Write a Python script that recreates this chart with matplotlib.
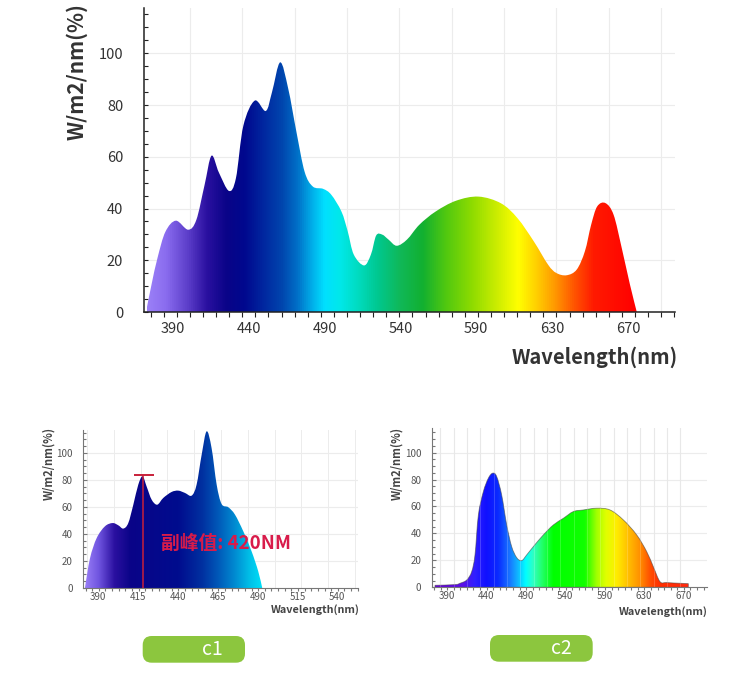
import numpy as np
import matplotlib
matplotlib.use("Agg")
import matplotlib.pyplot as plt
from matplotlib.colors import LinearSegmentedColormap
from matplotlib.patches import FancyBboxPatch, PathPatch
from matplotlib.path import Path

plt.rcParams['font.family'] = ['Noto Sans CJK SC', 'DejaVu Sans']

# ---- main spectrum (top chart) ----
main_wl = [372.2, 376.0, 379.8, 385.0, 391.9, 400.0, 405.4, 410.8,
           415.4, 420.2, 426.9, 431.5, 436.4, 443.9, 451.2, 455.3,
           460.7, 466.0, 471.4, 476.8, 482.2, 489.0, 494.4, 501.1, 505.2,
           509.2, 516.0, 520.5, 524.0, 528.0, 532.1, 537.5, 544.3, 552.4, 563.1,
           576.6, 591.5, 606.3, 617.1, 627.9, 637.3, 642.7, 649.5, 656.2, 661.6, 665.7,
           669.7, 675.1, 680.5, 685.9, 691.3, 695.8]
main_val = [0, 11, 20.9, 31, 35.3, 31.8, 35.6, 49,
            60.4, 54, 46.8, 51.7, 72, 81.7, 77.7, 85,
            96.5, 86.3, 69.6, 54.2, 48.5, 47.6, 45.3, 38.8, 31.2,
            22.2, 18, 22.2, 29.6, 29.9, 28, 25.6, 28, 33.7, 38.8,
            43, 44.6, 42, 36.3, 27.3, 18.3, 15.1, 14.2, 16.4, 23.5, 33.7,
            40.8, 42.1, 37.6, 24.7, 10.6, 0]
main_stops = [(373, '#9b80f7'), (385, '#8a6cef'), (400, '#5a3cc8'), (412, '#2a10a0'),
              (425, '#0a0488'), (437, '#00088e'), (450, '#0028a0'), (462, '#0046ae'),
              (472, '#0070c8'), (482, '#00b0ea'), (490, '#00e0ff'), (500, '#00e8ea'),
              (512, '#00dcc0'), (525, '#00c890'), (540, '#10b858'), (555, '#12b030'),
              (570, '#50c810'), (588, '#90dc00'), (605, '#d0ee00'), (618, '#ffff00'),
              (630, '#ffd000'), (642, '#ff9a00'), (655, '#ff5500'), (668, '#ff1a00'),
              (696, '#ff0000')]
main_xlabels = ['390', '440', '490', '540', '590', '630', '670']

# ---- c1 spectrum ----
c1_wl = [381.6, 384.8, 389.0, 394.2, 399.0, 402.6, 405.7, 408.8, 412.0, 415.1, 417.8,
         420.3, 423.5, 427.0, 430.8, 436.0, 440.2, 444.4, 448.6, 451.7, 454.9,
         458.0, 461.1, 464.3, 467.4, 471.6, 475.8, 481.0, 486.2, 490.4, 492.9]
c1_val = [0, 22, 37, 45.7, 48.1, 46.4, 44, 48, 61.7, 76.5, 82.7,
          75.3, 65.4, 61.7, 66.7, 71.1, 72.1, 70.4, 68.4, 76.5, 98.8,
          116, 103.7, 76.5, 62.2, 59.8, 54.3, 42, 27.2, 12.3, 0]
c1_stops = [(381, '#9b80f7'), (390, '#7055e0'), (400, '#2a10a0'), (410, '#0a0488'),
            (440, '#000c8e'), (455, '#0030a0'), (465, '#0058b8'), (475, '#0088d0'),
            (485, '#00c0e8'), (493, '#00e0f8')]
c1_xlabels = ['390', '415', '440', '465', '490', '515', '540']
c1_peak_wl = 418.2
c1_peak_val = 83.5

# ---- c2 spectrum ----
c2_wl = [375.2, 400.6, 406.9, 415.4, 421.7, 425.9, 430.2, 436.5, 442.8, 448.3, 453.4,
         459.7, 466.1, 472.4, 478.8, 485.1, 491.4, 499.9, 512.6, 525.3, 537.9, 550.6,
         563.3, 580.2, 597.1, 614.0, 630.9, 643.6, 652.0, 660.5, 668.9, 685.8, 696.4]
c2_val = [1.5, 2, 3, 5.4, 11.6, 24, 53.7, 71, 80.9, 84.7, 82.2,
          68.6, 46.3, 30.2, 22, 19.8, 24, 30.2, 38.9, 46.3, 51.2, 56.2,
          57.4, 58.7, 57.4, 50, 38.9, 26.5, 15.3, 4.2, 3.5, 3, 2.7]
c2_stops = [(375, '#6a00e0'), (410, '#5a10e8'), (425, '#3020ff'), (440, '#1010ff'),
            (455, '#0a2cff'), (470, '#1878ff'), (480, '#10b8ff'), (490, '#00ffff'),
            (500, '#30ffc0'), (512, '#20ff60'), (525, '#00ff00'), (565, '#10ff00'),
            (580, '#a0ff00'), (592, '#e0ff00'), (605, '#ffee00'), (620, '#ffc000'),
            (635, '#ff9000'), (648, '#ff5000'), (660, '#ff3000'), (697, '#ff2a10')]
c2_xlabels = ['390', '440', '490', '540', '590', '630', '670']

yticks = [0, 20, 40, 60, 80, 100]
GRID = '#ececec'


def smooth_path(wl, val):
    # cubic bezier through the read points (library draws the curve)
    p = np.column_stack([wl, val]).astype(float)
    n = len(p)
    verts = [(p[0, 0], 0.0), tuple(p[0])]
    codes = [Path.MOVETO, Path.LINETO]
    for i in range(n - 1):
        a = p[i - 1] if i > 0 else p[i]
        b = p[i + 2] if i + 2 < n else p[i + 1]
        c1 = p[i] + (p[i + 1] - a) / 6.0
        c2 = p[i + 1] - (b - p[i]) / 6.0
        c1[1] = max(c1[1], 0)
        c2[1] = max(c2[1], 0)
        verts += [tuple(c1), tuple(c2), tuple(p[i + 1])]
        codes += [Path.CURVE4] * 3
    verts += [(p[-1, 0], 0.0), (p[0, 0], 0.0)]
    codes += [Path.LINETO, Path.CLOSEPOLY]
    return Path(verts, codes)


def gradient_fill(ax, wl, val, stops, x0, x1, y1, outline=None):
    lo, hi = stops[0][0], stops[-1][0]
    cmap = LinearSegmentedColormap.from_list(
        'spec', [((w - lo) / (hi - lo), c) for w, c in stops])
    path = smooth_path(wl, val)
    patch = PathPatch(path, facecolor='none', edgecolor='none', transform=ax.transData)
    ax.add_patch(patch)
    grad = np.linspace(0, 1, 512).reshape(1, -1)
    im = ax.imshow(grad, cmap=cmap, aspect='auto', extent=[lo, hi, 0, y1],
                   origin='lower', zorder=2, interpolation='bilinear')
    im.set_clip_path(patch)
    if outline:
        ax.add_patch(PathPatch(path, facecolor='none', edgecolor=outline, lw=0.6,
                               alpha=0.6, zorder=3))
    ax.set_xlim(x0, x1)
    ax.set_ylim(0, y1)


def style_axes(ax, x1, y1, label_pos, labels, step, tick0, fs, col, ypad, xpad,
               spine_col, lw):
    for s in ['top', 'right']:
        ax.spines[s].set_visible(False)
    for s in ['left', 'bottom']:
        ax.spines[s].set_color(spine_col)
        ax.spines[s].set_linewidth(lw)
        ax.spines[s].set_zorder(5)
    ax.set_xticks(label_pos)
    ax.set_xticklabels(labels)
    ax.set_xticks(np.arange(tick0, x1, step), minor=True)
    ax.set_yticks(yticks)
    ax.set_yticks(np.arange(0, y1, 5), minor=True)
    ax.tick_params(axis='x', which='major', length=0, pad=xpad, labelsize=fs, labelcolor=col)
    ax.tick_params(axis='x', which='minor', length=3.5, direction='out', width=0.8,
                   color=spine_col)
    ax.tick_params(axis='y', which='major', length=3, direction='in', pad=ypad,
                   labelsize=fs, labelcolor=col, width=0.8, color=spine_col)
    ax.tick_params(axis='y', which='minor', length=3, direction='in', width=0.8,
                   color=spine_col)
    for yv in yticks[1:]:
        ax.axhline(yv, color=GRID, lw=0.8, zorder=0)


fig = plt.figure(figsize=(7.5, 7.0), dpi=100)

# main chart
ax = fig.add_axes([144 / 750, 1 - 312 / 700, 531 / 750, 304 / 700])
gradient_fill(ax, main_wl, main_val, main_stops, 370.9, 721, 117.5)
for g in np.arange(375.3 + 3 * 8.63, 721, 4 * 8.63):
    ax.axvline(g, color=GRID, lw=0.8, zorder=0)
style_axes(ax, 721, 117.5, [390 + 50 * i for i in range(7)], main_xlabels,
           8.63, 375.3, 10.5, '#333333', 15, 7, '#222222', 1.1)
fig.text(77 / 750, 1 - 72 / 700, 'W/m2/nm(%)', rotation=90, ha='center', va='center',
         fontsize=15, fontweight='bold', color='#333333')
fig.text(678 / 750, 1 - 357 / 700, 'Wavelength(nm)', ha='right', va='center',
         fontsize=14.5, fontweight='bold', color='#333333')

# c1 chart
ax1 = fig.add_axes([83.3 / 750, 1 - 588 / 700, 274.7 / 750, 158 / 700])
gradient_fill(ax1, c1_wl, c1_val, c1_stops, 380.6, 553, 117)
for g in np.arange(383, 553, 16.8):
    ax1.axvline(g, color=GRID, lw=0.7, zorder=0)
style_axes(ax1, 553, 117, [390 + 25 * i for i in range(7)], c1_xlabels,
           25 / 6, 382, 7, '#555555', 7.5, 3, '#777777', 0.8)
ax1.tick_params(which='minor', length=2.5)
ax1.vlines(c1_peak_wl, 0, c1_peak_val, color='#c8203a', lw=1.1, zorder=4)
ax1.hlines(c1_peak_val, c1_peak_wl - 5.8, c1_peak_wl + 6.7, color='#c8203a', lw=1.4, zorder=4)
ax1.text(429.3, 33.3, '副峰值: 420NM', color='#d81b4a', fontsize=13.5,
         fontweight='bold', ha='left', va='center', zorder=5)
fig.text(49 / 750, 1 - 463 / 700, 'W/m2/nm(%)', rotation=90, ha='center', va='center',
         fontsize=8, fontweight='bold', color='#444444')
fig.text(360 / 750, 1 - 610 / 700, 'Wavelength(nm)', ha='right', va='center',
         fontsize=7.8, fontweight='bold', color='#444444')

# c2 chart
ax2 = fig.add_axes([431.7 / 750, 1 - 587.3 / 700, 275 / 750, 159 / 700])
gradient_fill(ax2, c2_wl, c2_val, c2_stops, 371, 719.7, 118, outline='#444444')
for g in np.arange(382, 700, 16.9):
    ax2.axvline(g, color='#e4e4e4', lw=0.8, zorder=1)
    ax2.axvline(g, color='white', lw=0.7, alpha=0.18, zorder=3)
style_axes(ax2, 719.7, 118, [390 + 50 * i for i in range(7)], c2_xlabels,
           50 / 6, 374, 7, '#555555', 7.5, 3, '#777777', 0.8)
ax2.tick_params(which='minor', length=2.5)
fig.text(396.7 / 750, 1 - 463 / 700, 'W/m2/nm(%)', rotation=90, ha='center', va='center',
         fontsize=8, fontweight='bold', color='#444444')
fig.text(708 / 750, 1 - 611.7 / 700, 'Wavelength(nm)', ha='right', va='center',
         fontsize=7.8, fontweight='bold', color='#444444')

# buttons (pixel coordinates)
for (bx0, bx1, by0, by1, tx, lab) in [(142.7, 245, 636, 662.7, 212.7, 'c1'),
                                      (490, 592.7, 635, 661.7, 561.7, 'c2')]:
    box = FancyBboxPatch((bx0 + 9, 700 - by1 + 9), bx1 - bx0 - 18, by1 - by0 - 18,
                         boxstyle='round,pad=9', transform=None,
                         facecolor='#8cc63e', edgecolor='none')
    fig.patches.append(box)
    fig.text(tx / 750, 1 - (by0 + by1) / 2 / 700, lab, ha='center', va='center',
             fontsize=14, color='white')

fig.savefig('out.png', dpi=100)
